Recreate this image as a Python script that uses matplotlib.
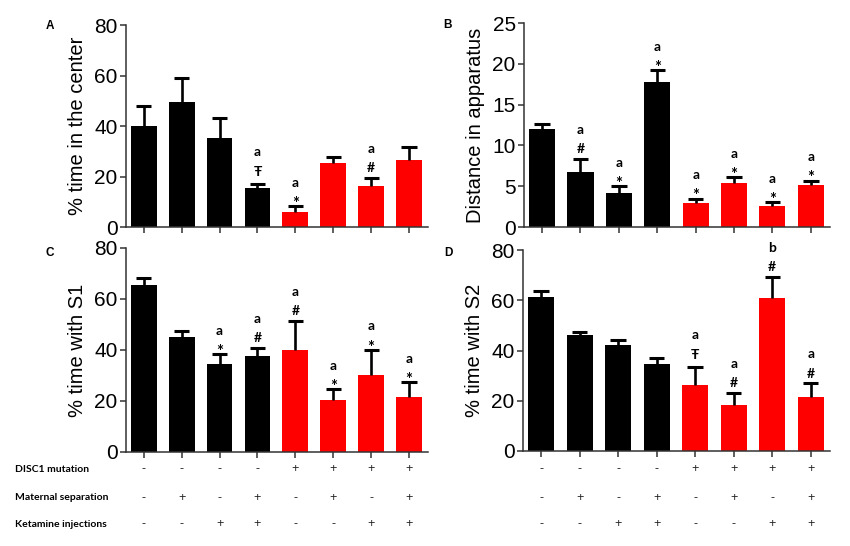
import matplotlib
matplotlib.use("Agg")
import matplotlib.pyplot as plt
import matplotlib.transforms as mtransforms

plt.rcParams["font.family"] = ["Liberation Sans", "DejaVu Sans"]

# groups: DISC1 / maternal separation / ketamine, 8 bars per panel
colors = ["black"] * 4 + ["#ff0000"] * 4

# A - % time in the center
a_mean = [40.0, 49.6, 35.4, 15.6, 5.8, 25.4, 16.3, 26.5]
a_err = [8.1, 9.5, 7.6, 1.5, 2.4, 2.2, 3.3, 5.0]
a_sym = [None, None, None, "Ŧ", "*", None, "#", None]
a_let = [None, None, None, "a", "a", None, "a", None]

# B - distance in apparatus
b_mean = [12.0, 6.7, 4.2, 17.75, 2.98, 5.35, 2.6, 5.14]
b_err = [0.65, 1.65, 0.8, 1.45, 0.5, 0.75, 0.46, 0.56]
b_sym = [None, "#", "*", "*", "*", "*", "*", "*"]
b_let = [None, "a", "a", "a", "a", "a", "a", "a"]

# C - % time with S1
c_mean = [65.4, 45.0, 34.5, 37.8, 39.9, 20.3, 30.1, 21.4]
c_err = [2.8, 2.6, 3.8, 3.0, 11.5, 4.3, 10.0, 5.9]
c_sym = [None, None, "*", "#", "#", "*", "*", "*"]
c_let = [None, None, "a", "a", "a", "a", "a", "a"]

# D - % time with S2
d_mean = [61.4, 46.1, 42.1, 34.8, 26.3, 18.2, 61.0, 21.3]
d_err = [2.3, 1.2, 2.0, 2.3, 7.2, 4.9, 8.4, 5.7]
d_sym = [None, None, None, None, "Ŧ", "#", "#", "#"]
d_let = [None, None, None, None, "a", "a", "b", "a"]

row_names = ["DISC1 mutation", "Maternal separation", "Ketamine injections"]
row_signs = [
    ["-", "-", "-", "-", "+", "+", "+", "+"],
    ["-", "+", "-", "+", "-", "+", "-", "+"],
    ["-", "-", "+", "+", "-", "-", "+", "+"],
]

sym_off = {"*": -2, "#": 4, "Ŧ": 6}
sym_size = {"*": 12, "#": 10, "Ŧ": 10}
note_font = ["Lato", "DejaVu Sans"]

fig = plt.figure(figsize=(8.5, 5.46), dpi=100)


def panel(rect, mean, err, syms, lets, ymax, ystep, ylabel, letter, letter_xy):
    ax = fig.add_axes(rect)
    x = list(range(len(mean)))
    ax.bar(x, mean, width=0.68, color=colors, zorder=2)
    tops = [m + e for m, e in zip(mean, err)]
    ax.vlines(x, mean, tops, color="black", lw=1.9, zorder=3)
    ax.hlines(tops, [i - 0.2 for i in x], [i + 0.2 for i in x],
              color="black", lw=2.2, zorder=3)
    for i in x:
        if syms[i] is None:
            continue
        s = syms[i]
        off = sym_off[s]
        ax.annotate(s, (i, tops[i]), xytext=(0, off), textcoords="offset points",
                    ha="center", va="baseline", fontsize=sym_size[s],
                    weight="bold", family=note_font)
        ax.annotate(lets[i], (i, tops[i]), xytext=(0, max(off, 0) + 14),
                    textcoords="offset points", ha="center", va="baseline",
                    fontsize=10, weight="bold", family=note_font)
    ax.set_xlim(-0.47, 7.5)
    ax.set_ylim(0, ymax)
    ax.set_yticks(range(0, ymax + 1, ystep))
    ax.set_xticks(x)
    ax.set_xticklabels([])
    ax.spines["top"].set_visible(False)
    ax.spines["right"].set_visible(False)
    for s in ["left", "bottom"]:
        ax.spines[s].set_linewidth(1.1)
        ax.spines[s].set_color("#333333")
    ax.tick_params(direction="out", length=4, width=1.1, color="#333333",
                   labelsize=15, pad=2)
    ax.set_ylabel(ylabel, fontsize=14.5, labelpad=5)
    fig.text(letter_xy[0], letter_xy[1], letter, fontsize=8.5, weight="bold",
             ha="center", va="center")
    return ax


ax_a = panel([0.1482, 0.5842, 0.3553, 0.370], a_mean, a_err, a_sym, a_let,
             80, 20, "% time in the center", "A", (0.059, 0.953))
ax_b = panel([0.6165, 0.5842, 0.3600, 0.3736], b_mean, b_err, b_sym, b_let,
             25, 5, "Distance in apparatus", "B", (0.527, 0.955))
ax_c = panel([0.1482, 0.1722, 0.3553, 0.3736], c_mean, c_err, c_sym, c_let,
             80, 20, "% time with S1", "C", (0.058, 0.537))
ax_d = panel([0.6153, 0.1740, 0.3612, 0.3680], d_mean, d_err, d_sym, d_let,
             80, 20, "% time with S2", "D", (0.527, 0.537))

# condition table under the bottom panels
row_y = [0.141, 0.088, 0.040]
for name, signs, y in zip(row_names, row_signs, row_y):
    fig.text(0.018, y, name, fontsize=7.5, weight="bold", ha="left", va="center",
             family=note_font)
    for ax in (ax_c, ax_d):
        tr = mtransforms.blended_transform_factory(ax.transData, fig.transFigure)
        for i, s in enumerate(signs):
            ax.text(i, y, s, transform=tr, fontsize=9, ha="center", va="center",
                    color="#222222")

fig.savefig("out.png", dpi=100)
